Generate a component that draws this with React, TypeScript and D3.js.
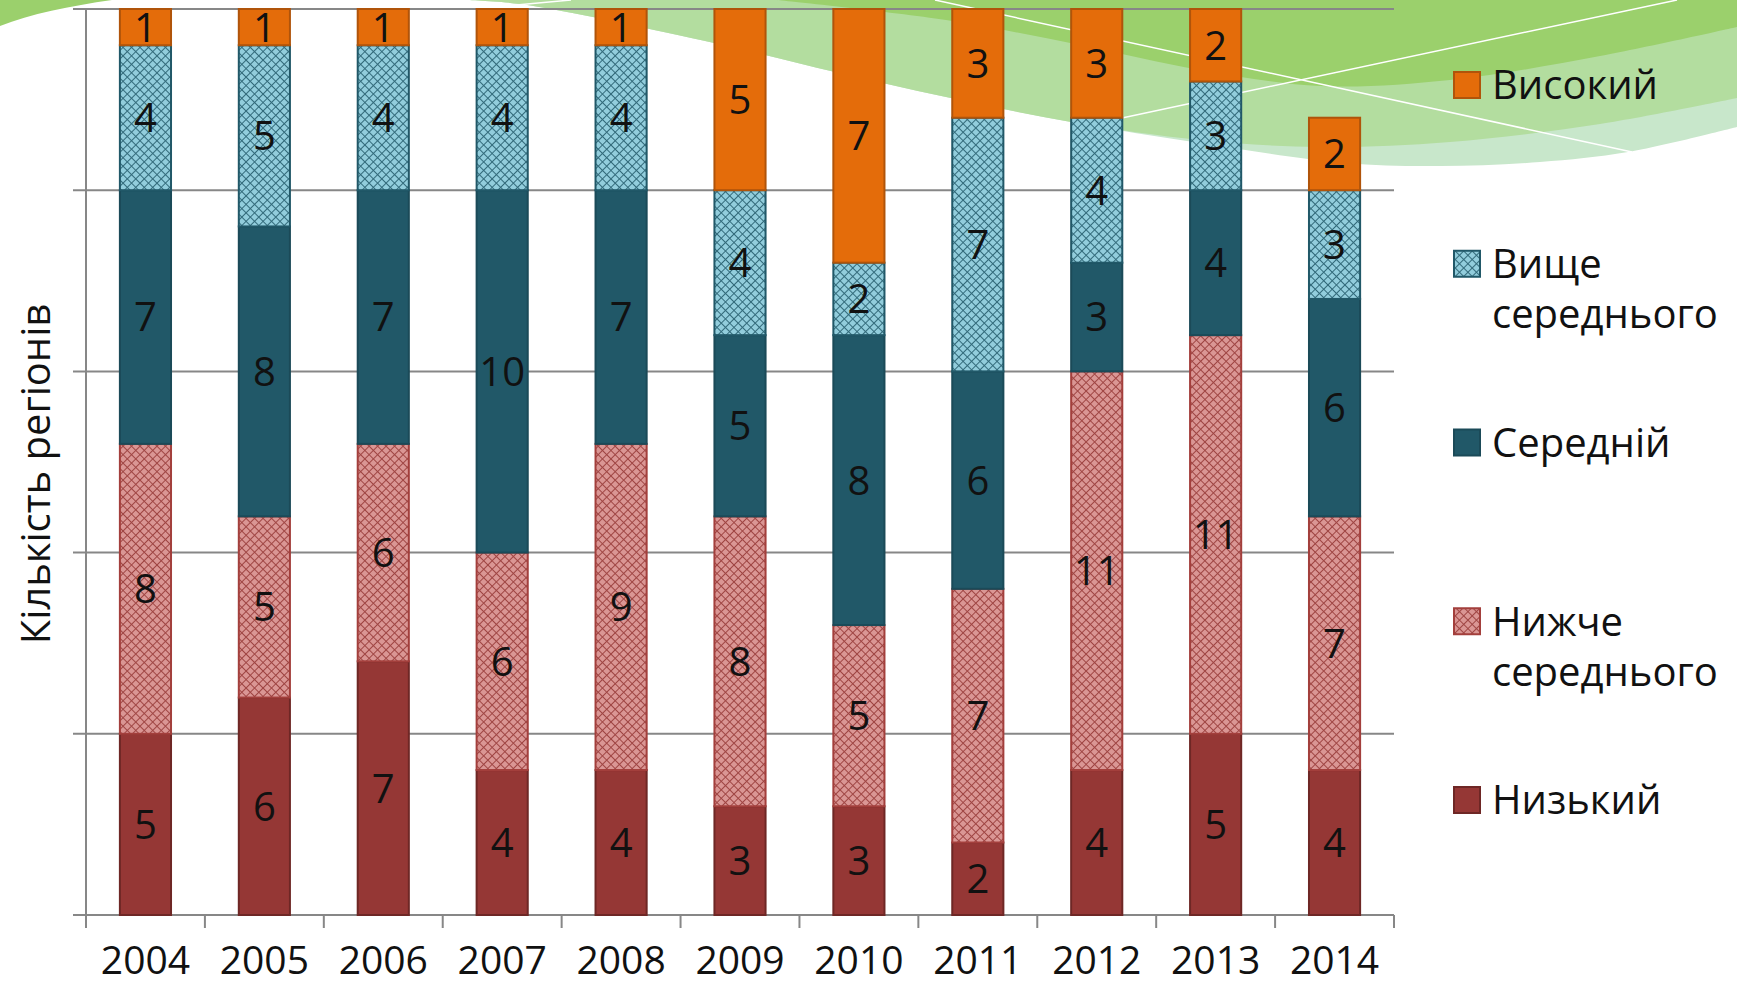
import React, { useEffect, useRef } from "react";
import * as d3 from "d3";

// years on the x axis
const years = ["2004", "2005", "2006", "2007", "2008", "2009", "2010", "2011", "2012", "2013", "2014"];

// number of regions per level, bottom to top of each bar
const low = [5, 6, 7, 4, 4, 3, 3, 2, 4, 5, 4];
const belowAverage = [8, 5, 6, 6, 9, 8, 5, 7, 11, 11, 7];
const average = [7, 8, 7, 10, 7, 5, 8, 6, 3, 4, 6];
const aboveAverage = [4, 5, 4, 4, 4, 4, 2, 7, 4, 3, 3];
const high = [1, 1, 1, 1, 1, 5, 7, 3, 3, 2, 2];

const seriesKeys = ["Низький", "Нижче середнього", "Середній", "Вище середнього", "Високий"];
const seriesValues = [low, belowAverage, average, aboveAverage, high];

// legend goes top to bottom, long names broken in two lines
const legendItems = ["Високий", "Вище середнього", "Середній", "Нижче середнього", "Низький"];
const legendLines: Record<string, string[]> = {
  "Високий": ["Високий"],
  "Вище середнього": ["Вище", "середнього"],
  "Середній": ["Середній"],
  "Нижче середнього": ["Нижче", "середнього"],
  "Низький": ["Низький"],
};

const yTicks = [0, 5, 10, 15, 20, 25];
const yTitle = "Кількість регіонів";

const styles: Record<string, { fill: string; stroke: string }> = {
  "Низький": { fill: "#953735", stroke: "#6e2725" },
  "Нижче середнього": { fill: "url(#hatchPink)", stroke: "#a33f3c" },
  "Середній": { fill: "#215868", stroke: "#1b4a58" },
  "Вище середнього": { fill: "url(#hatchBlue)", stroke: "#215868" },
  "Високий": { fill: "#E46C0A", stroke: "#B0540A" },
};

const App: React.FC = () => {
  const chartRef = useRef<SVGSVGElement>(null);

  useEffect(() => {
    const width = 1737;
    const height = 987;
    const margin = { top: 9, right: 343, bottom: 72, left: 86 };
    const font = "'Open Sans', 'Noto Sans', sans-serif";

    const svg = d3.select(chartRef.current);
    svg.selectAll("*").remove();
    svg.attr("width", width).attr("height", height).style("background", "#fff");

    // hatch patterns for the two "middle" groups
    const defs = svg.append("defs");
    const hatch = (id: string, bg: string, fg: string) => {
      const p = defs
        .append("pattern")
        .attr("id", id)
        .attr("patternUnits", "userSpaceOnUse")
        .attr("width", 6)
        .attr("height", 6)
        .attr("patternTransform", "rotate(45)");
      p.append("rect").attr("width", 6).attr("height", 6).attr("fill", bg);
      p.append("path").attr("d", "M0,0.5H6M0.5,0V6").attr("stroke", fg).attr("stroke-width", 1).attr("opacity", 0.85);
    };
    hatch("hatchBlue", "#92CDDC", "#215868");
    hatch("hatchPink", "#DA9694", "#953735");

    // green swoosh decoration in the background
    const bg = svg.append("g");
    const curve = d3.line().curve(d3.curveCatmullRom.alpha(0.5));
    const lightest: [number, number][] = [
      [463, 0], [520, 4], [714, 43], [835, 72], [946, 97], [1071, 122], [1200, 143],
      [1344, 163], [1440, 166], [1540, 162], [1628, 152], [1737, 127],
    ];
    const light: [number, number][] = [
      [463, 0], [520, 4], [714, 43], [835, 72], [946, 97], [1071, 122], [1200, 140],
      [1320, 147], [1450, 142], [1600, 124], [1737, 98],
    ];
    const dark: [number, number][] = [
      [777, 0], [946, 20], [1080, 45], [1200, 70], [1320, 86], [1450, 80], [1600, 56], [1737, 27],
    ];
    bg.append("path").attr("d", curve(lightest) + "L1737,0Z").attr("fill", "#C8E7CB");
    bg.append("path").attr("d", curve(light) + "L1737,0Z").attr("fill", "#B3DD9F");
    bg.append("path").attr("d", curve(dark) + "L1737,0Z").attr("fill", "#9BD06C");
    bg.append("path").attr("d", "M0,0L112,0C70,6 30,14 0,26Z").attr("fill", "#9BD06C");
    bg.append("path").attr("d", "M935,0L1632,152M1122,118L1677,0M463,10L571,0")
      .attr("stroke", "#fff").attr("stroke-width", 1.5).attr("fill", "none");

    // scales
    const x = d3
      .scaleBand()
      .domain(years)
      .range([margin.left, width - margin.right])
      .paddingInner(0.57)
      .paddingOuter(0.285);

    const y = d3
      .scaleLinear()
      .domain([0, 25])
      .range([height - margin.bottom, margin.top]);

    // grid + axes
    const grid = svg.append("g").attr("stroke", "#878787").attr("stroke-width", 2);
    grid
      .selectAll("line.h")
      .data(yTicks)
      .enter()
      .append("line")
      .attr("x1", margin.left - 13)
      .attr("x2", width - margin.right)
      .attr("y1", (d) => y(d))
      .attr("y2", (d) => y(d));
    const step = x.step();
    grid
      .selectAll("line.v")
      .data(d3.range(years.length + 1))
      .enter()
      .append("line")
      .attr("x1", (i) => margin.left + i * step)
      .attr("x2", (i) => margin.left + i * step)
      .attr("y1", (i) => (i === 0 ? y(25) : y(0)))
      .attr("y2", y(0) + 13);

    // stacked bars
    const rows = years.map((yr, i) => {
      const row: Record<string, any> = { year: yr };
      seriesKeys.forEach((k, j) => (row[k] = seriesValues[j][i]));
      return row;
    });
    const stacked = d3.stack<Record<string, any>>().keys(seriesKeys)(rows);

    const groups = svg
      .selectAll("g.series")
      .data(stacked)
      .enter()
      .append("g")
      .attr("fill", (s) => styles[s.key].fill)
      .attr("stroke", (s) => styles[s.key].stroke)
      .attr("stroke-width", 2);

    groups
      .selectAll("rect")
      .data((s) => s.filter((d) => d[1] - d[0] > 0))
      .enter()
      .append("rect")
      .attr("x", (d) => x(d.data.year)!)
      .attr("width", x.bandwidth())
      .attr("y", (d) => y(d[1]))
      .attr("height", (d) => y(d[0]) - y(d[1]));

    // value labels
    const labels = svg.append("g").attr("font-family", font).attr("font-size", 40).attr("fill", "#111").attr("text-anchor", "middle");
    stacked.forEach((s) => {
      s.forEach((d) => {
        const v = d[1] - d[0];
        if (v <= 0) return;
        labels
          .append("text")
          .attr("x", x(d.data.year)! + x.bandwidth() / 2)
          .attr("y", y((d[0] + d[1]) / 2))
          .attr("dy", "0.36em")
          .text(v);
      });
    });

    // year labels
    svg
      .append("g")
      .attr("font-family", font)
      .attr("font-size", 39)
      .attr("fill", "#111")
      .attr("text-anchor", "middle")
      .selectAll("text")
      .data(years)
      .enter()
      .append("text")
      .attr("x", (d) => x(d)! + x.bandwidth() / 2)
      .attr("y", 960)
      .attr("dy", "0.36em")
      .text((d) => d);

    // y title
    svg
      .append("text")
      .attr("transform", `translate(50,${(y(0) + y(25)) / 2 + 12}) rotate(-90)`)
      .attr("text-anchor", "middle")
      .attr("font-family", font)
      .attr("font-size", 40)
      .attr("fill", "#111")
      .text(yTitle);

    // legend
    const legend = svg.append("g").attr("font-family", font).attr("font-size", 40).attr("fill", "#111");
    const legendY = d3.scalePoint().domain(legendItems).range([85, 800]);
    legendItems.forEach((name) => {
      const cy = legendY(name)!;
      legend
        .append("rect")
        .attr("x", 1454)
        .attr("y", cy - 13)
        .attr("width", 26)
        .attr("height", 26)
        .attr("fill", styles[name].fill)
        .attr("stroke", styles[name].stroke)
        .attr("stroke-width", 2);
      legendLines[name].forEach((line, li) => {
        legend
          .append("text")
          .attr("x", 1492)
          .attr("y", cy + li * 50)
          .attr("dy", "0.36em")
          .text(line);
      });
    });
  }, []);

  return (
    <svg
      ref={chartRef}
      style={{ position: "absolute", left: 0, top: 0, display: "block" }}
    ></svg>
  );
};

export default App;
